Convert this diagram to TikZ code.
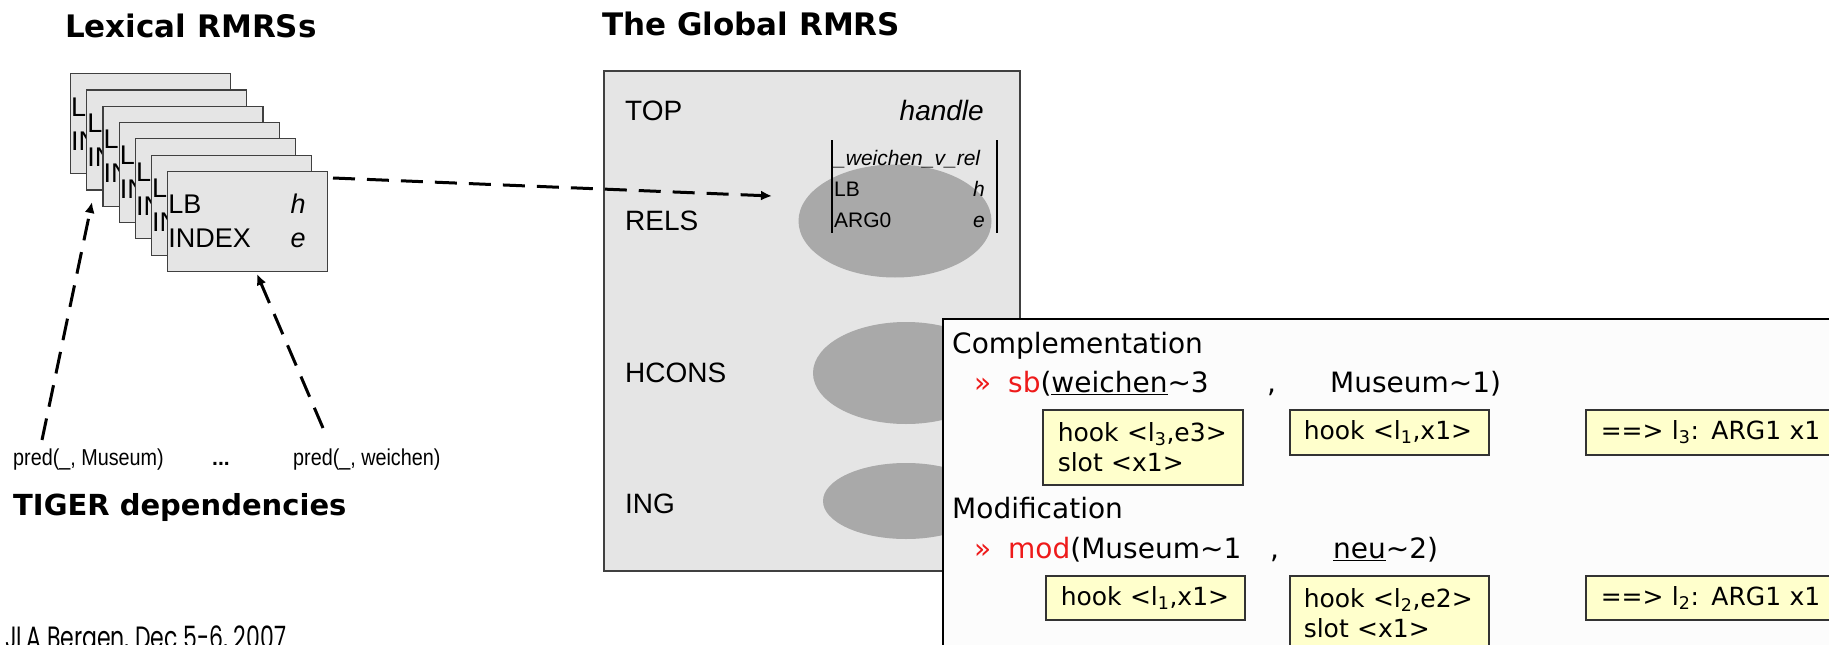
\documentclass[tikz,border=0pt]{standalone}
\usepackage{fontspec}
\setmainfont{Liberation Sans}
\newfontfamily\verd{DejaVu Sans}
\newfontfamily\gothic{Poppins}
\usetikzlibrary{arrows.meta,shapes.geometric}
\definecolor{panelgray}{HTML}{E5E5E5}
\definecolor{blobgray}{HTML}{A9A9A9}
\definecolor{hookyellow}{HTML}{FFFFCC}
\definecolor{sbred}{HTML}{EE1A1A}
\definecolor{overlaywhite}{HTML}{FCFCFC}
\newcommand{\pxsize}[2]{\fontsize{#1}{#2}\selectfont}
\tikzset{
  lexbox/.style={draw=black!75, fill=panelgray, line width=1.2pt, minimum width=160pt, minimum height=100pt, anchor=north west, inner sep=0pt},
  lextxt/.style={anchor=base west, inner sep=0pt, font=\pxsize{27}{27}},
  lexval/.style={anchor=base, inner sep=0pt, font=\pxsize{27}{27}\itshape},
  title/.style={anchor=base west, inner sep=0pt, font=\verd\bfseries\pxsize{31}{31}},
  glabel/.style={anchor=base west, inner sep=0pt, font=\pxsize{28}{28}},
  fstxt/.style={anchor=base west, inner sep=0pt, font=\pxsize{21}{21}},
  predtxt/.style={anchor=base west, inner sep=0pt, font=\pxsize{23}{23}, transform shape},
  depline/.style={line width=3pt, dash pattern=on 22pt off 12pt, -{Latex[length=11pt,width=10pt]}},
  blob/.style={ellipse, fill=blobgray, draw=none, inner sep=0pt},
  otxt/.style={anchor=base west, inner sep=0pt, font=\verd\pxsize{28}{28}},
  chev/.style={anchor=base west, inner sep=0pt, text=sbred, font=\verd\pxsize{28}{28}},
  hookbox/.style={draw=black!80, line width=1.5pt, fill=hookyellow, anchor=north west, align=left, inner ysep=0pt, font=\verd\pxsize{25}{30}},
}
\begin{document}
\begin{tikzpicture}[x=1pt,y=-1pt]
\useasboundingbox (0,0) rectangle (1829,645);
\fill[white] (0,0) rectangle (1829,645);

% titles
\node[title] (lextitle) at (65,37) {Lexical RMRSs};
\node[title] (globtitle) at (602,35) {The Global RMRS};
\node[title, font=\verd\bfseries\pxsize{29}{29}] (tigertitle) at (13,515) {TIGER dependencies};

% stack of lexical RMRSs
\foreach \i in {1,...,7}{
  \pgfmathsetmacro\bx{70+16.2*(\i-1)}
  \pgfmathsetmacro\by{73+16.3*(\i-1)}
  \node[lexbox] (box\i) at (\bx,\by) {};
  \node[lextxt] (lb\i) at (\bx+1,\by+43) {LB};
  \node[lexval] (lbv\i) at (\bx+131,\by+43) {h};
  \node[lextxt] (idx\i) at (\bx+1,\by+77) {INDEX};
  \node[lexval] (idxv\i) at (\bx+131,\by+77) {e};
}

% TIGER dependency labels
\begin{scope}[shift={(13,465)}, xscale=0.86]
\node[predtxt] (predmus) at (0,0) {pred(\_, Museum)};
\end{scope}
\node[anchor=base west, inner sep=0pt, font=\bfseries\pxsize{21}{21}] (dots) at (212,465) {...};
\begin{scope}[shift={(293,465)}, xscale=0.86]
\node[predtxt] (predwei) at (0,0) {pred(\_, weichen)};
\end{scope}

% global RMRS panel
\node[draw=black!75, line width=1.5pt, fill=panelgray, anchor=north west, minimum width=416pt, minimum height=500pt, inner sep=0pt] (global) at (603,70) {};
\node[glabel] (top) at (625,120) {TOP};
\node[glabel, anchor=base east, font=\pxsize{28}{28}\itshape] (handle) at (984,120) {handle};
\node[glabel] (rels) at (625,230) {RELS};
\node[glabel] (hcons) at (625,382) {HCONS};
\node[glabel] (ing) at (625,513) {ING};

\node[blob, minimum width=193pt, minimum height=113pt] (relsblob) at (895,221) {};
\node[blob, minimum width=186pt, minimum height=102pt] (hconsblob) at (906,373) {};
\node[blob, minimum width=166pt, minimum height=76pt] (ingblob) at (906,501) {};

% feature structure
\draw[line width=2.5pt] (832,140) -- (832,233);
\draw[line width=2.5pt] (997,140) -- (997,233);
\node[fstxt, font=\pxsize{21}{21}\itshape] (relname) at (834,165) {\_weichen\_v\_rel};
\node[fstxt] (fslb) at (834,196) {LB};
\node[fstxt, anchor=base, font=\pxsize{21}{21}\itshape] (fsh) at (979,196) {h};
\node[fstxt] (fsarg) at (834,227) {ARG0};
\node[fstxt, anchor=base, font=\pxsize{21}{21}\itshape] (fse) at (979,227) {e};

% dashed connectors
\coordinate (a1s) at (333,178);
\coordinate (a1e) at (772,196);
\coordinate (a2s) at (42,440);
\coordinate (a2e) at (92,202);
\coordinate (a3s) at (323,428);
\coordinate (a3e) at (257,274);
\draw[depline] (a1s) -- (a1e);
\draw[depline] (a2s) -- (a2e);
\draw[depline] (a3s) -- (a3e);

% overlay panel
\node[draw=black, line width=1.5pt, fill=overlaywhite, anchor=north west, minimum width=920pt, minimum height=360pt, inner sep=0pt] (overlay) at (942,318) {};

\node[otxt] (compl) at (952,353) {Complementation};
\node[chev] (chev1) at (974,392) {»};
\node[otxt] (sbfun) at (1008,392) {\textcolor{sbred}{sb}(\underline{weichen}\textasciitilde 3};
\node[otxt] (comma1) at (1267,392) {,};
\node[otxt] (mus1) at (1330,392) {Museum\textasciitilde 1)};

\node[hookbox, inner xsep=15pt, text width=170pt, minimum height=75pt] (hookA) at (1042,409) {hook <l\textsubscript{3},e3>\\slot <x1>};
\node[hookbox, inner xsep=14pt, text width=171pt, minimum height=45pt] (hookB) at (1289,409) {hook <l\textsubscript{1},x1>};
\node[hookbox, inner xsep=15pt, text width=300pt, minimum height=45pt] (hookC) at (1585,409) {==> l\textsubscript{3}: ARG1 x1};

\node[otxt] (modif) at (952,518) {Modification};
\node[chev] (chev2) at (974,558) {»};
\node[otxt] (modfun) at (1008,558) {\textcolor{sbred}{mod}(Museum\textasciitilde 1};
\node[otxt] (comma2) at (1270,558) {,};
\node[otxt] (neu) at (1333,558) {\underline{neu}\textasciitilde 2)};

\node[hookbox, inner xsep=15pt, text width=169pt, minimum height=44pt] (hookD) at (1045,575) {hook <l\textsubscript{1},x1>};
\node[hookbox, inner xsep=14pt, text width=171pt, minimum height=75pt] (hookE) at (1289,575) {hook <l\textsubscript{2},e2>\\slot <x1>};
\node[hookbox, inner xsep=15pt, text width=300pt, minimum height=44pt] (hookF) at (1585,575) {==> l\textsubscript{2}: ARG1 x1};

% footer (cut by the page edge)
\begin{scope}[shift={(5,648)}, yscale=1.4]
\node[anchor=base west, inner sep=0pt, font=\gothic\pxsize{22}{22}, transform shape] (footer) at (0,0) {JLA Bergen, Dec 5-6, 2007};
\end{scope}
\end{tikzpicture}
\end{document}
